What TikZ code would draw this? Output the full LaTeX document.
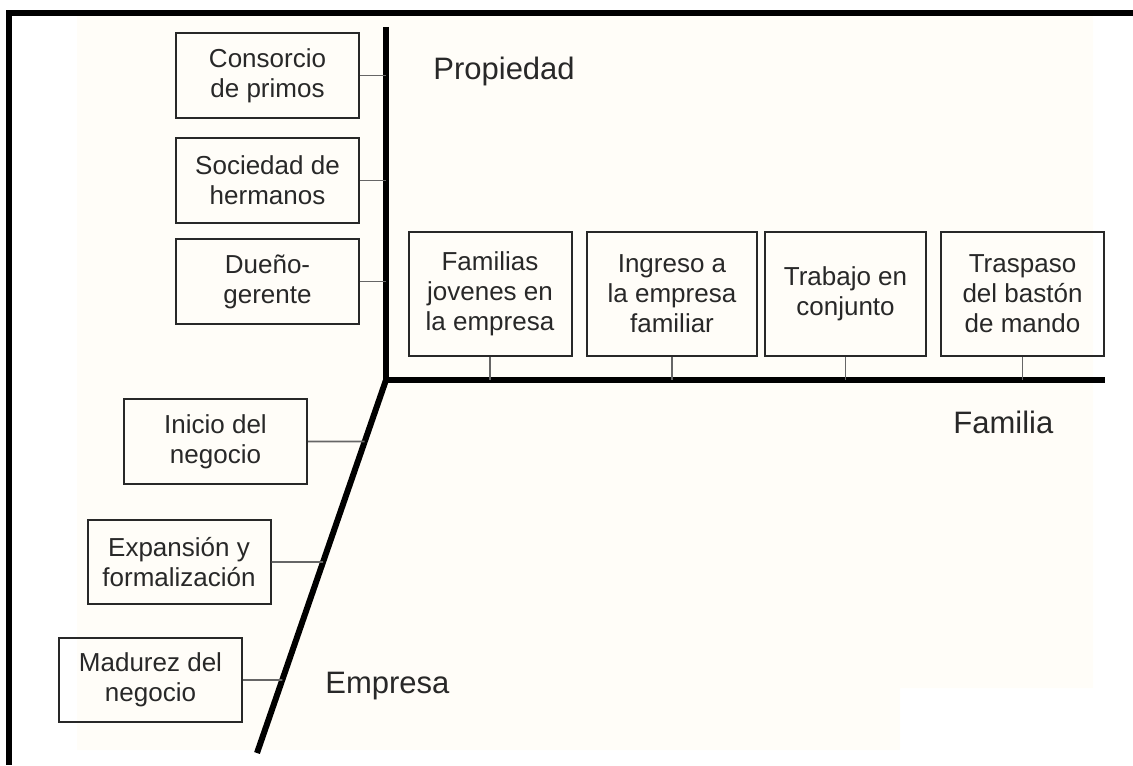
\documentclass[tikz,border=0pt]{standalone}
\usepackage{fontspec}
\setmainfont{Liberation Sans}
\definecolor{papel}{RGB}{255,253,248}
\definecolor{tinta}{RGB}{40,40,40}
\tikzset{
    caja/.style={draw=tinta, line width=1pt, text=tinta, align=center, inner sep=0pt,
        minimum width=91.5pt, minimum height=42.5pt, font=\fontsize{13}{15}\selectfont},
    etapa/.style={caja, minimum width=81.5pt, minimum height=62pt},
    eje/.style={line width=3pt},
    enlace/.style={draw=black!60, line width=0.8pt},
    titulo/.style={text=tinta, inner sep=0pt, anchor=base west, font=\fontsize{15.5}{18}\selectfont}
}
\begin{document}
\begin{tikzpicture}[x=0.5pt, y=-0.5pt]
    \useasboundingbox (0,0) rectangle (1133,765);
    \fill[papel] (77,16) -- (1093,16) -- (1093,688) -- (900,688) -- (900,750) -- (77,750) -- cycle;
    \fill (6,10) rectangle (1133,16);
    \fill (6,10) rectangle (12,765);

    \coordinate (arriba) at (386,27);
    \coordinate (esquina) at (386,380);
    \coordinate (derecha) at (1105,380);
    \coordinate (pie) at (257,753);

    \draw[eje] (arriba) -- (esquina) -- (derecha);
    \draw[eje] (esquina) -- (pie);

    \node[caja] (consorcio) at (267.5,75.5) {Consorcio\\de primos};
    \node[caja] (sociedad) at (267.5,180.5) {Sociedad de\\hermanos};
    \node[caja] (dueno) at (267.5,281.5) {Dueño-\\gerente};

    \node[etapa] (jovenes) at (490,294) {Familias\\jovenes en\\la empresa};
    \node[etapa, minimum width=85pt] (ingreso) at (672,294) {Ingreso a\\la empresa\\familiar};
    \node[etapa, minimum width=80.5pt] (trabajo) at (845.5,294) {Trabajo en\\conjunto};
    \node[etapa] (traspaso) at (1022.5,294) {Traspaso\\del bastón\\de mando};

    \node[caja] (inicio) at (215.5,441.5) {Inicio del\\negocio};
    \node[caja, minimum height=42pt] (expansion) at (179,562) {Expansión y\\formalización};
    \node[caja, minimum height=42pt] (madurez) at (150.5,680) {Madurez del\\negocio};

    \node[titulo] (propiedad) at (433,80) {Propiedad};
    \node[titulo] (familia) at (953,433) {Familia};
    \node[titulo] (empresa) at (325,693) {Empresa};

    \draw[enlace] (consorcio.east) -- (consorcio.east -| esquina);
    \draw[enlace] (sociedad.east) -- (sociedad.east -| esquina);
    \draw[enlace] (dueno.east) -- (dueno.east -| esquina);

    \draw[enlace] (jovenes.south) -- (jovenes.south |- esquina);
    \draw[enlace] (ingreso.south) -- (ingreso.south |- esquina);
    \draw[enlace] (trabajo.south) -- (trabajo.south |- esquina);
    \draw[enlace] (traspaso.south) -- (traspaso.south |- esquina);

    \draw[enlace] (inicio.east) -- (intersection of esquina--pie and inicio.east--inicio.west);
    \draw[enlace] (expansion.east) -- (intersection of esquina--pie and expansion.east--expansion.west);
    \draw[enlace] (madurez.east) -- (intersection of esquina--pie and madurez.east--madurez.west);
\end{tikzpicture}
\end{document}
